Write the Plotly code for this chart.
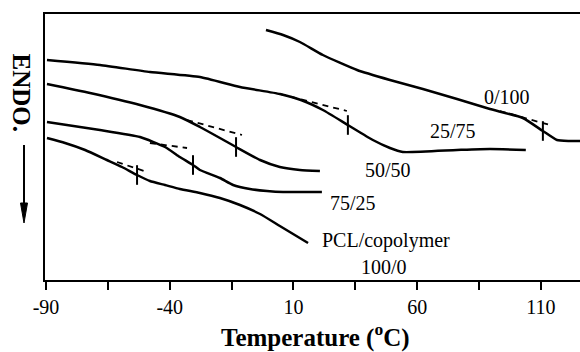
import plotly.graph_objects as go

# DSC thermograms of PCL/copolymer blends (heat flow in arbitrary units, endo down)
temp_100_0 = [-89.6, -82.3, -74.2, -65.4, -59.3, -53.2, -48.0, -41.9, -35.9, -27.8, -19.7, -11.6, -3.5, 4.5, 15.9]
flow_100_0 = [142, 137, 130, 120, 113, 105, 99, 95, 91, 87, 82, 75, 66, 54, 37]

temp_75_25 = [-89.6, -68.2, -52.0, -41.9, -35.9, -30.6, -27.8, -19.7, -14.4, -7.6, -0.7, 5.8, 21.5]
flow_75_25 = [158, 150, 143, 133, 123, 115, 110, 102, 95, 91, 89, 88, 88]

temp_50_50 = [-89.6, -72.2, -52.0, -35.9, -27.8, -19.7, -13.2, -3.5, 4.5, 12.6, 20.7]
flow_50_50 = [196, 187, 175, 163, 153, 142, 133, 120, 113, 110, 109]

temp_25_75 = [-89.6, -68.2, -48.0, -27.8, -11.6, 4.5, 13.0, 21.9, 32.0, 42.1, 49.0, 54.2, 76.1, 89.4, 103.9]
flow_25_75 = [220, 215, 208, 203, 193, 186, 180, 170, 155, 140, 132, 128, 130, 131, 130]

temp_0_100 = [-1.1, 5.8, 12.6, 21.9, 35.7, 49.0, 62.3, 76.1, 89.4, 102.7, 110.8, 116.5, 121.3, 125.8]
flow_0_100 = [250, 245, 238, 225, 210, 200, 191, 181, 171, 162, 149, 140, 139, 139]

# Glass transition marks (onset tangent lines and Tg positions)
tg_temp = [-53.2, -30.6, -13.2, 32.0, 110.8]
tg_flow = [105, 115, 133, 155, 149]

tangent_temp = [[-61.3, -49.2], [-48.0, -33.0], [-33.0, -10.8], [4.5, 31.6], [93.4, 113.6]]
tangent_flow = [[118, 108], [137, 132], [160, 145], [186, 169], [169, 155]]

# Curve labels
label_text = ["0/100", "25/75", "50/50", "75/25", "PCL/copolymer", "100/0"]
label_temp = [96.3, 74.4, 48.2, 34.0, 47.4, 46.6]
label_flow = [183, 149, 110, 77, 40, 13]

# Axis ticks
major_ticks = [-90, -40, 10, 60, 110]
major_text = ["-90", "-40", "10", "60", "110"]
minor_ticks = [-65, -15, 35, 85]

SERIF = "Liberation Serif, Times New Roman, serif"

fig = go.Figure()

curves = [
    (temp_100_0, flow_100_0),
    (temp_75_25, flow_75_25),
    (temp_50_50, flow_50_50),
    (temp_25_75, flow_25_75),
    (temp_0_100, flow_0_100),
]
for t, f in curves:
    fig.add_trace(go.Scatter(x=t, y=f, mode="lines",
                             line=dict(color="black", width=2.5, shape="spline", smoothing=0.5),
                             showlegend=False, hoverinfo="skip"))

for t, f in zip(tangent_temp, tangent_flow):
    fig.add_trace(go.Scatter(x=t, y=f, mode="lines",
                             line=dict(color="black", width=1.8, dash="6px,5px"),
                             showlegend=False, hoverinfo="skip"))

fig.add_trace(go.Scatter(x=tg_temp, y=tg_flow, mode="markers",
                         marker=dict(symbol="line-ns", size=14,
                                     line=dict(color="black", width=2)),
                         showlegend=False, hoverinfo="skip"))

for txt, t, f in zip(label_text, label_temp, label_flow):
    fig.add_annotation(x=t, y=f, xref="x", yref="y", text=txt, showarrow=False,
                       font=dict(family=SERIF, size=20, color="black"),
                       xanchor="center", yanchor="middle")

# Axis title
fig.add_annotation(x=0.5065, y=-0.21, xref="paper", yref="paper",
                   text="<b>Temperature (<sup>o</sup>C)</b>", showarrow=False,
                   font=dict(family=SERIF, size=25, color="black"),
                   xanchor="center", yanchor="middle")

# Endotherm direction label and arrow
fig.add_annotation(x=-0.043, y=0.705, xref="paper", yref="paper",
                   text="<b>ENDO.</b>", textangle=90, showarrow=False,
                   font=dict(family=SERIF, size=25, color="black"),
                   xanchor="center", yanchor="middle")
fig.add_shape(type="line", xref="paper", yref="paper",
              x0=-0.03925, x1=-0.03925, y0=0.5075, y1=0.28,
              line=dict(color="black", width=2))
fig.add_shape(type="path", xref="paper", yref="paper",
              path="M -0.03925,0.2143 L -0.0458,0.2895 L -0.0327,0.2895 Z",
              fillcolor="black", line=dict(color="black", width=1))

fig.update_xaxes(range=[-90.4, 125.8], showline=True, linecolor="black", linewidth=2,
                 mirror=True, ticks="outside", ticklen=8, tickwidth=2, tickcolor="black",
                 tickmode="array", tickvals=major_ticks, ticktext=major_text,
                 minor=dict(tickmode="array", tickvals=minor_ticks, ticks="outside",
                            ticklen=8, tickwidth=2, tickcolor="black", showgrid=False),
                 showgrid=False, zeroline=False,
                 tickfont=dict(family=SERIF, size=20, color="black"))
fig.update_yaxes(range=[0, 266], showline=True, linecolor="black", linewidth=2,
                 mirror=False, showticklabels=False, ticks="", showgrid=False,
                 zeroline=False)

fig.update_layout(width=580, height=352, margin=dict(l=45, r=0, t=14, b=72),
                  plot_bgcolor="white", paper_bgcolor="white")

fig.write_html("out.html")
